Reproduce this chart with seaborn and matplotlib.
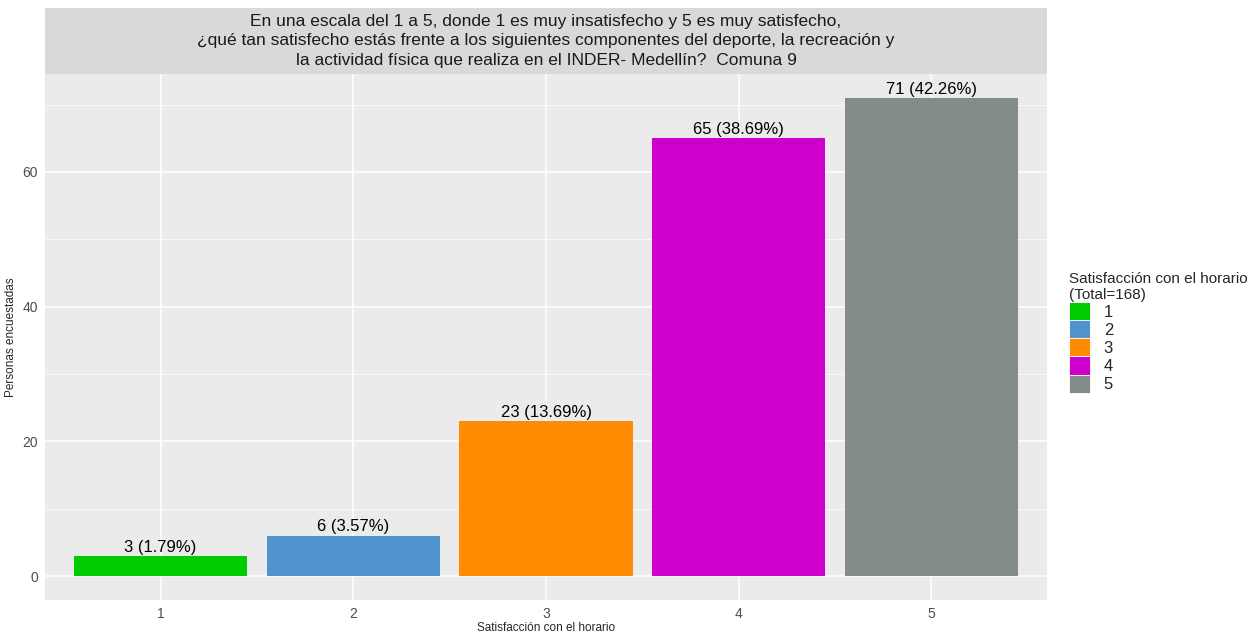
import matplotlib
matplotlib.use('Agg')
import matplotlib.pyplot as plt
from matplotlib.patches import Rectangle
import seaborn as sns
import pandas as pd

# datos
categorias = ['1', '2', '3', '4', '5']
personas = [3, 6, 23, 65, 71]
porcentajes = ['1.79%', '3.57%', '13.69%', '38.69%', '42.26%']
colores = ['#00CC00', '#4F94CD', '#FF8C00', '#CD00CD', '#838B8B']
titulo = ('En una escala del 1 a 5, donde 1 es muy insatisfecho y 5 es muy satisfecho,\n'
          '¿qué tan satisfecho estás frente a los siguientes componentes del deporte, la recreación y\n'
          'la actividad física que realiza en el INDER- Medellín?  Comuna 9')

df = pd.DataFrame({'cat': categorias, 'n': personas})

sns.set_style('darkgrid', {'axes.facecolor': '#EBEBEB', 'grid.color': 'white'})
plt.rcParams['font.family'] = ['Liberation Sans', 'DejaVu Sans']

fig = plt.figure(figsize=(12.58, 6.34), dpi=100)
ax = fig.add_axes([45 / 1258, 1 - 600 / 634, 1002 / 1258, 526 / 634])

sns.barplot(data=df, x='cat', y='n', hue='cat', palette=colores, width=0.9,
            saturation=1, ax=ax, legend=True, zorder=3, edgecolor='none', linewidth=0)

for i, (v, p) in enumerate(zip(personas, porcentajes)):
    ax.text(i, v + 0.2, f'{v} ({p})', ha='center', va='bottom', fontsize=12, color='black')

ax.set_xlim(-0.6, 4.6)
ax.set_ylim(-3.55, 74.55)
ax.set_yticks([0, 20, 40, 60])
ax.set_yticks([10, 30, 50, 70], minor=True)
ax.grid(which='major', color='white', linewidth=1.1, zorder=0)
ax.grid(which='minor', axis='y', color='white', linewidth=0.5, zorder=0)
ax.set_axisbelow(True)
for s in ax.spines.values():
    s.set_visible(False)
ax.tick_params(axis='both', which='major', colors='#4D4D4D', labelsize=10, length=3, width=0.8,
               pad=2, labelcolor='#4D4D4D')
ax.tick_params(axis='both', which='minor', length=0)
ax.set_xlabel('Satisfacción con el horario', fontsize=8.5, labelpad=1)
ax.set_ylabel('Personas encuestadas', fontsize=8.5, labelpad=4)

# franja del título
fig.patches.append(Rectangle((45 / 1258, 1 - 74 / 634), 1002 / 1258, 66 / 634,
                             transform=fig.transFigure, facecolor='#D9D9D9', edgecolor='none'))
fig.text(546 / 1258, 1 - 41 / 634, titulo, ha='center', va='center', fontsize=12.5,
         color='#1A1A1A', linespacing=1.35)

# leyenda
handles, labels = ax.get_legend_handles_labels()
ax.get_legend().remove()
leg = fig.legend(handles, labels, title='Satisfacción con el horario\n(Total=168)',
                 loc='upper left', bbox_to_anchor=(1062 / 1258, 1 - 265 / 634),
                 frameon=False, fontsize=12, title_fontsize=11, handlelength=1.3,
                 handleheight=1.3, labelspacing=0.0, handletextpad=0.8, borderaxespad=0)
leg._legend_box.align = 'left'
for h in leg.legend_handles:
    h.set_edgecolor('white')
    h.set_linewidth(0.6)

fig.savefig('out.png', dpi=100)
